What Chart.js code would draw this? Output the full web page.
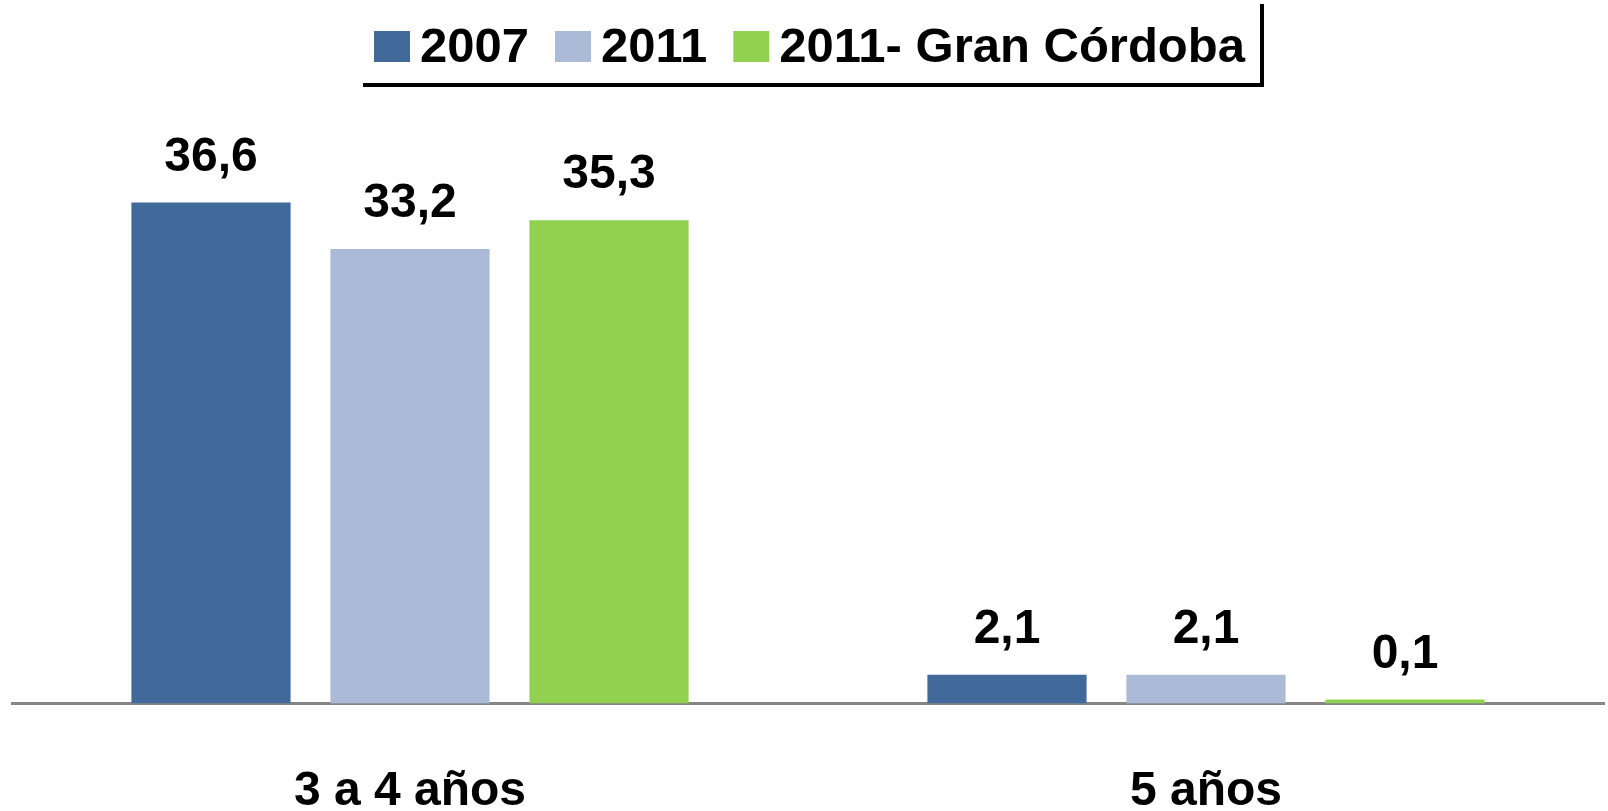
<!DOCTYPE html>
<html lang="es">
<head>
    <meta charset="UTF-8">
    <title>Asistencia por edad</title>
    <style>
        html, body {
            margin: 0;
            padding: 0;
            background: #fff;
        }
        .container {
            width: 1608px;
            height: 811px;
            position: relative;
        }
    </style>
</head>
<body>
    <div class="container">
        <canvas id="barChart"></canvas>
    </div>

    <script src="https://cdn.jsdelivr.net/npm/chart.js"></script>
    <script>
        const categories = ['3 a 4 años', '5 años'];
        const seriesNames = ['2007', '2011', '2011- Gran Córdoba'];
        const values2007 = [36.6, 2.1];
        const values2011 = [33.2, 2.1];
        const valuesGranCordoba = [35.3, 0.1];

        const colors = ['#416A9B', '#AABAD7', '#92D050'];
        const fontFamily = "'Liberation Sans', Arial, sans-serif";

        // value labels above each bar, with a decimal comma
        const valueLabels = {
            id: 'valueLabels',
            afterDatasetsDraw(chart) {
                const ctx = chart.ctx;
                ctx.save();
                ctx.font = 'bold 48px ' + fontFamily;
                ctx.fillStyle = '#000';
                ctx.textAlign = 'center';
                ctx.textBaseline = 'alphabetic';
                chart.data.datasets.forEach((ds, i) => {
                    chart.getDatasetMeta(i).data.forEach((bar, j) => {
                        const txt = ds.data[j].toFixed(1).replace('.', ',');
                        ctx.fillText(txt, bar.x, bar.y - 32);
                    });
                });
                ctx.restore();
            }
        };

        // legend drawn at the top, with the right and bottom border lines
        const topLegend = {
            id: 'topLegend',
            afterDraw(chart) {
                const ctx = chart.ctx;
                ctx.save();
                ctx.font = 'bold 49px ' + fontFamily;
                ctx.textBaseline = 'middle';
                ctx.textAlign = 'left';
                let x = 374;
                chart.data.datasets.forEach(ds => {
                    ctx.fillStyle = ds.backgroundColor;
                    ctx.fillRect(x, 31, 36, 31);
                    ctx.fillStyle = '#000';
                    ctx.fillText(ds.label, x + 46, 48);
                    x += 46 + ctx.measureText(ds.label).width + 26;
                });
                ctx.strokeStyle = '#000';
                ctx.lineWidth = 4;
                ctx.beginPath();
                ctx.moveTo(1262, 4);
                ctx.lineTo(1262, 85);
                ctx.lineTo(363, 85);
                ctx.stroke();
                ctx.restore();
            }
        };

        const barChart = new Chart(document.getElementById('barChart').getContext('2d'), {
            type: 'bar',
            data: {
                labels: categories,
                datasets: [
                    { label: seriesNames[0], data: values2007, backgroundColor: colors[0] },
                    { label: seriesNames[1], data: values2011, backgroundColor: colors[1] },
                    { label: seriesNames[2], data: valuesGranCordoba, backgroundColor: colors[2] }
                ]
            },
            options: {
                responsive: true,
                maintainAspectRatio: false,
                animation: false,
                layout: {
                    padding: { top: 156, left: 12, right: 4, bottom: -69 }
                },
                categoryPercentage: 0.75,
                barPercentage: 0.8,
                minBarLength: 4,
                plugins: {
                    legend: { display: false },
                    tooltip: { enabled: false }
                },
                scales: {
                    x: {
                        grid: { display: false, drawTicks: false },
                        border: { display: true, color: '#868686', width: 3 },
                        ticks: {
                            color: '#000',
                            padding: 69,
                            font: { family: fontFamily, size: 48, weight: 'bold', lineHeight: 0.8 }
                        }
                    },
                    y: {
                        display: false,
                        min: 0,
                        max: 40
                    }
                }
            },
            plugins: [valueLabels, topLegend]
        });
    </script>
</body>
</html>
